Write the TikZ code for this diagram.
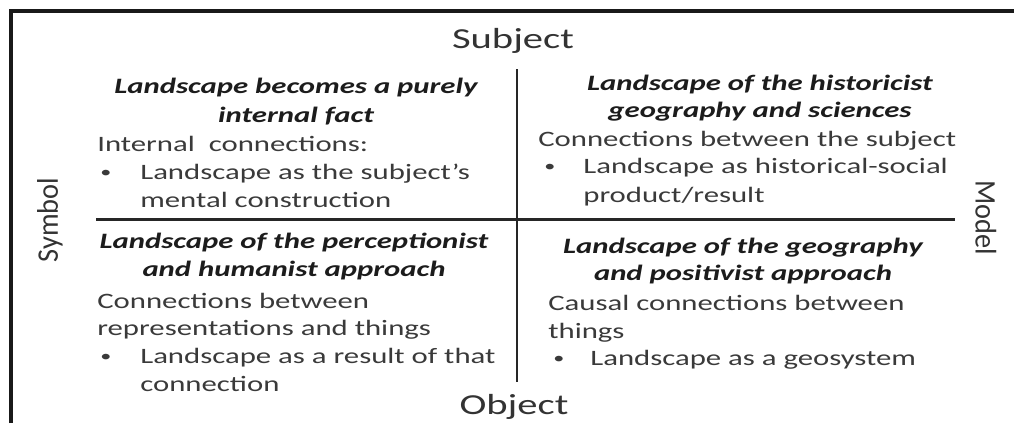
\documentclass[tikz,border=0pt]{standalone}
\usepackage{fontspec}
\setmainfont{Carlito}[FakeStretch=1.4]
\newfontfamily\sidefont{Carlito}[FakeStretch=0.95]
\usepackage{tikz}

\definecolor{bodygray}{HTML}{3A3A3A}
\definecolor{headblack}{HTML}{1C1C1C}

\tikzstyle{frame}=[line width=1.8pt, draw=black!90]
\tikzstyle{axis}=[line width=1.7pt, draw=black!85]
\tikzstyle{pole}=[font=\fontsize{16.5}{16.5}\selectfont, text=black!80, inner sep=0pt, anchor=base]
\tikzstyle{sidepole}=[font=\sidefont\fontsize{17}{17}\selectfont, text=black!80, inner sep=0pt]
\tikzstyle{head}=[font=\fontsize{12.5}{12.5}\selectfont\bfseries\itshape, text=headblack, inner sep=0pt, anchor=base]
\tikzstyle{txt}=[font=\fontsize{12.5}{12.5}\selectfont, text=bodygray, inner sep=0pt, anchor=base west]
\tikzstyle{dot}=[font=\fontsize{9}{9}\selectfont, text=bodygray, inner sep=0pt, anchor=base west]

\begin{document}
\begin{tikzpicture}[x=0.2mm, y=-0.2mm]
      \useasboundingbox (0,0) rectangle (1014,423);
      \fill[white] (0,0) rectangle (1014,423);
      \draw[frame] (11,423) -- (11,11) -- (1014,11);

      % the four poles
      \node(subj) [pole] at (513,48){Subject};
      \node(obj) [pole] at (514,414){Object};
      \node(symb) [sidepole, rotate=90] at (50,220){Symbol};
      \node(model) [sidepole, rotate=-90] at (986,218){Model};

      % cross
      \coordinate (N) at (517,69);
      \coordinate (S) at (517,382);
      \coordinate (W) at (96,219);
      \coordinate (E) at (955,219);
      \draw[axis] (N) to (S);
      \draw[axis] (W) to (E);

      % subject / symbol
      \node(h1a) [head] at (296,93){Landscape becomes a purely};
      \node(h1b) [head] at (296,122){internal fact};
      \node(t1a) [txt] at (97,151){Internal\ \ connections:};
      \node(b1) [dot] at (100,177){\textbullet};
      \node(t1b) [txt] at (140,179){Landscape as the subject’s};
      \node(t1c) [txt] at (140,207){mental construction};

      % subject / model
      \node(h2a) [head] at (760,90){Landscape of the historicist};
      \node(h2b) [head] at (760,117){geography and sciences};
      \node(t2a) [txt] at (538,146){Connections between the subject};
      \node(b2) [dot] at (544,171){\textbullet};
      \node(t2b) [txt] at (583,173){Landscape as historical-social};
      \node(t2c) [txt] at (583,202){product/result};

      % object / symbol
      \node(h3a) [head] at (294,248){Landscape of the perceptionist};
      \node(h3b) [head] at (294,276){and humanist approach};
      \node(t3a) [txt] at (97,308){Connections between};
      \node(t3b) [txt] at (97,335){representations and things};
      \node(b3) [dot] at (100,361){\textbullet};
      \node(t3c) [txt] at (140,363){Landscape as a result of that};
      \node(t3d) [txt] at (140,391){connection};

      % object / model
      \node(h4a) [head] at (743,253){Landscape of the geography};
      \node(h4b) [head] at (743,280){and positivist approach};
      \node(t4a) [txt] at (548,310){Causal connections between};
      \node(t4b) [txt] at (548,338){things};
      \node(b4) [dot] at (553,363){\textbullet};
      \node(t4c) [txt] at (590,365){Landscape as a geosystem};
\end{tikzpicture}
\end{document}
